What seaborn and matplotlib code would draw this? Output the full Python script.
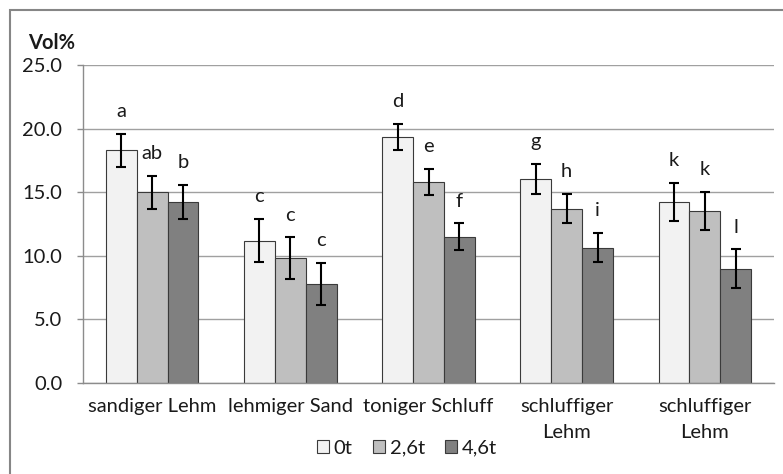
import pandas as pd
import numpy as np
import matplotlib
matplotlib.use("Agg")
import matplotlib.pyplot as plt
import seaborn as sns
from matplotlib.patches import Rectangle

# soil types and treatments
soils = ["sandiger Lehm", "lehmiger Sand", "toniger Schluff", "schluffiger\nLehm", "schluffiger\nLehm"]
treatments = ["0t", "2,6t", "4,6t"]
vol_0t = [18.3, 11.2, 19.35, 16.05, 14.25]
vol_26t = [15.0, 9.8, 15.8, 13.7, 13.55]
vol_46t = [14.25, 7.8, 11.5, 10.65, 9.0]
err_0t = [1.3, 1.7, 1.0, 1.2, 1.5]
err_26t = [1.3, 1.65, 1.05, 1.15, 1.5]
err_46t = [1.35, 1.65, 1.05, 1.15, 1.5]
letters_0t = ["a", "c", "d", "g", "k"]
letters_26t = ["ab", "c", "e", "h", "k"]
letters_46t = ["b", "c", "f", "i", "l"]

colors = ["#f2f2f2", "#bfbfbf", "#808080"]

rows = []
for t, vals, errs, lets in zip(treatments, [vol_0t, vol_26t, vol_46t],
                               [err_0t, err_26t, err_46t],
                               [letters_0t, letters_26t, letters_46t]):
    for i in range(len(soils)):
        rows.append({"group": i, "treatment": t, "vol": vals[i], "err": errs[i], "letter": lets[i]})
df = pd.DataFrame(rows)

sns.set_style("white")
plt.rcParams["font.family"] = ["Lato", "DejaVu Sans"]

fs = 14.5
fig = plt.figure(figsize=(7.83, 4.74), dpi=100)
ax = fig.add_axes([83 / 783, 1 - 383 / 474, (774 - 83) / 783, (383 - 65) / 474])

sns.barplot(data=df, x="group", y="vol", hue="treatment", hue_order=treatments,
            palette=colors, width=0.67, errorbar=None, edgecolor="#3a3a3a",
            linewidth=0.8, ax=ax, legend=True, zorder=2)

# error bars and significance letters
for cont, t in zip(ax.containers, treatments):
    sub = df[df["treatment"] == t].sort_values("group")
    xs = [b.get_x() + b.get_width() / 2 for b in cont]
    ax.errorbar(xs, sub["vol"], yerr=sub["err"], fmt="none", ecolor="black",
                elinewidth=1.5, capsize=3.6, capthick=1.5, zorder=3)
    for x, top, lab in zip(xs, sub["vol"] + sub["err"], sub["letter"]):
        ax.annotate(lab, (x, top), xytext=(0, 16), textcoords="offset points",
                    ha="center", va="center", fontsize=fs, color="#1a1a1a")

ax.set_ylim(0, 25)
ax.set_xlim(-0.5, len(soils) - 0.5)
ax.set_yticks(np.arange(0, 26, 5))
ax.set_yticklabels([f"{v:.1f}" for v in np.arange(0, 26, 5)], fontsize=fs, color="#1a1a1a")
ax.set_xticks(range(len(soils)))
ax.set_xticklabels(soils, fontsize=fs, color="#1a1a1a", linespacing=1.65)
ax.set_xticks(np.arange(-0.5, len(soils), 1), minor=True)
ax.tick_params(axis="x", which="major", length=0, pad=11)
ax.tick_params(axis="x", which="minor", length=5, color="#8c8c8c", width=1)
ax.tick_params(axis="y", length=4, color="#8c8c8c", width=1, pad=11, left=True)
ax.set_xlabel("")
ax.set_ylabel("")

ax.yaxis.grid(True, color="#a0a0a0", linewidth=1)
ax.set_axisbelow(True)
for s in ["top", "right"]:
    ax.spines[s].set_visible(False)
for s in ["left", "bottom"]:
    ax.spines[s].set_color("#8c8c8c")
    ax.spines[s].set_linewidth(1)

# legend below the plot
handles, labels = ax.get_legend_handles_labels()
ax.get_legend().remove()
for h in handles:
    h.set_edgecolor("#3a3a3a")
fig.legend(handles, labels, loc="center", bbox_to_anchor=(407 / 783, 1 - 448 / 474),
           ncol=3, frameon=False, fontsize=fs, handlelength=0.6, handleheight=0.6,
           handletextpad=0.25, columnspacing=1.0, labelcolor="#1a1a1a")

fig.text(28 / 783, 1 - 43 / 474, "Vol%", fontsize=fs, fontweight="bold",
         ha="left", va="center", color="#1a1a1a")

# outer chart frame
fig.patches.append(Rectangle((10 / 783, -0.1), 1.2, 1.1 - 10 / 474, transform=fig.transFigure,
                             fill=False, edgecolor="#868686", linewidth=1.5))

fig.savefig("out.png", dpi=100)
